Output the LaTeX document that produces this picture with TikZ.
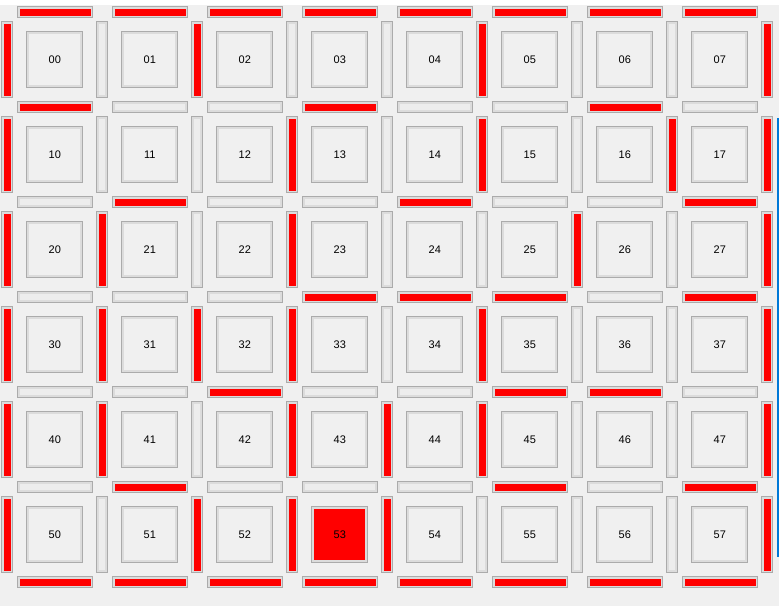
\documentclass[tikz,border=0pt]{standalone}
\usepackage{fontspec}
\setmainfont{Liberation Sans}

\definecolor{panelbg}{HTML}{F0F0F0}
\definecolor{edgegray}{HTML}{ABABAB}
\definecolor{bandgray}{HTML}{DCDCDC}
\definecolor{slotgray}{HTML}{EDEDED}
\definecolor{blockred}{HTML}{FF0000}
\definecolor{focusblue}{HTML}{0078D7}

\tikzset{
  framed/.style={draw=edgegray, line width=1pt, fill=bandgray,
    inner sep=0pt, outer sep=0pt,
    path picture={\fill[#1]
      ([xshift=2.5pt,yshift=-2.5pt]path picture bounding box.north west) rectangle
      ([xshift=-2.5pt,yshift=2.5pt]path picture bounding box.south east);}},
  cell/.style={framed=panelbg, minimum width=56pt, minimum height=56pt,
    font=\fontsize{11}{13}\selectfont},
  cell53/.style={framed=blockred},
  hwall/.style={framed=slotgray, minimum width=75pt, minimum height=11pt},
  vwall/.style={framed=slotgray, minimum width=11pt, minimum height=76pt},
  shut/.style={fill=blockred}
}

\begin{document}
\begin{tikzpicture}[x=1pt,y=-1pt]
  \useasboundingbox (0,0) rectangle (779,606);
  \fill[panelbg] (0,0) rectangle (779,606);
  \fill[white] (0,0) rectangle (779,5);

  % rooms
  \foreach \j in {0,...,5}
    \foreach \i in {0,...,7}
      \node[cell, cell\j\i/.try] (c\j\i) at ({54.8+95*\i},{59.8+95*\j}) {\j\i};

  % walls between rows
  \foreach \j in {0,...,6}
    \foreach \i in {0,...,7}
      \node[hwall] (h\j\i) at ({55+95*\i},{12.2+95*\j}) {};

  % walls between columns
  \foreach \j in {0,...,5}
    \foreach \i in {0,...,8}
      \node[vwall] (v\j\i) at ({7.3+95*\i},{59.8+95*\j}) {};

  % closed walls
  \foreach \w in {h00,h01,h02,h03,h04,h05,h06,h07,
                  h10,h13,h16, h21,h24,h27, h33,h34,h35,h37,
                  h42,h45,h46, h51,h55,h57,
                  h60,h61,h62,h63,h64,h65,h66,h67,
                  v00,v02,v05,v08, v10,v13,v15,v17,v18,
                  v20,v21,v23,v26,v28, v30,v31,v32,v33,v35,v38,
                  v40,v41,v43,v44,v45,v48, v50,v52,v53,v54,v58}
    \fill[shut] ([xshift=2pt,yshift=-2pt]\w.north west) rectangle
                ([xshift=-2pt,yshift=2pt]\w.south east);

  \draw[focusblue, line width=1.5pt] (778,118) -- (778,557);
\end{tikzpicture}
\end{document}
